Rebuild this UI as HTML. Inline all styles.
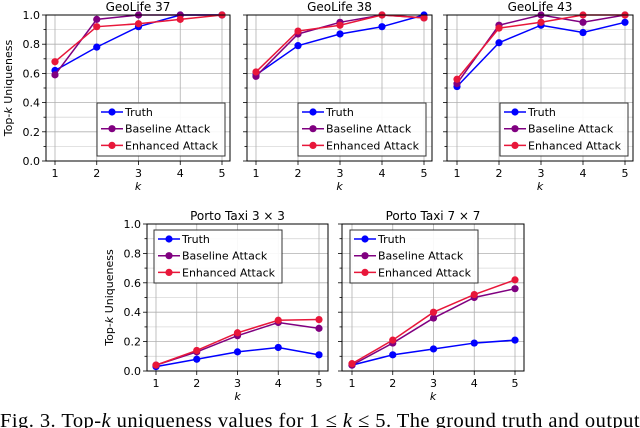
<!DOCTYPE html>
<html><head><meta charset="utf-8"><style>
html,body{margin:0;padding:0;background:#fff;width:640px;height:428px;overflow:hidden}
svg{display:block}
text{font-family:"DejaVu Sans","Liberation Sans",sans-serif}
</style></head><body>
<svg id="fig" width="640" height="428" viewBox="0 0 640 428" xmlns="http://www.w3.org/2000/svg">
<text x="0" y="427" font-size="20.5" fill="#000" textLength="648" lengthAdjust="spacing" style="font-family:'Liberation Serif',serif">Fig. 3.  Top-<tspan font-style="italic">k</tspan> uniqueness values for 1 ≤ <tspan font-style="italic">k</tspan> ≤ 5. The ground truth and outputs</text>
</svg>
<script>
const kValues = [1,2,3,4,5];
const yTicks = [0,0.2,0.4,0.6,0.8,1.0];
const yTickLabels = ["0.0","0.2","0.4","0.6","0.8","1.0"];
const seriesNames = ["Truth","Baseline Attack","Enhanced Attack"];
const g37Truth = [0.62,0.78,0.92,1.0,1.0];
const g37Base = [0.59,0.97,1.0,1.0,1.0];
const g37Enh = [0.68,0.92,0.94,0.97,1.0];
const g38Truth = [0.59,0.79,0.87,0.92,1.0];
const g38Base = [0.58,0.87,0.95,1.0,0.98];
const g38Enh = [0.61,0.89,0.93,1.0,0.98];
const g43Truth = [0.51,0.81,0.93,0.88,0.95];
const g43Base = [0.53,0.93,1.0,0.95,1.0];
const g43Enh = [0.56,0.91,0.95,1.0,1.0];
const p3Truth = [0.03,0.08,0.13,0.16,0.11];
const p3Base = [0.04,0.13,0.24,0.33,0.29];
const p3Enh = [0.04,0.14,0.26,0.345,0.35];
const p7Truth = [0.04,0.11,0.15,0.19,0.21];
const p7Base = [0.04,0.19,0.36,0.50,0.56];
const p7Enh = [0.05,0.21,0.40,0.52,0.62];

const NS="http://www.w3.org/2000/svg";
const svg=document.getElementById('fig');
const colors=["#0000ff","#800080","#e8173a"];
function mk(tag,attrs,parent){const e=document.createElementNS(NS,tag);for(const k in attrs)e.setAttribute(k,attrs[k]);(parent||svg).appendChild(e);return e;}

const panels=[
 {id:"geolife-37",title:"GeoLife 37",fx0:46,fx1:230,fy0:15,fy1:161,x1:55,x5:222,yl:true,series:[g37Truth,g37Base,g37Enh],leg:[97,103]},
 {id:"geolife-38",title:"GeoLife 38",fx0:247,fx1:432,fy0:15,fy1:161,x1:256,x5:424,yl:false,series:[g38Truth,g38Base,g38Enh],leg:[298,103]},
 {id:"geolife-43",title:"GeoLife 43",fx0:447,fx1:633,fy0:15,fy1:161,x1:457,x5:625,yl:false,series:[g43Truth,g43Base,g43Enh],leg:[500,103]},
 {id:"porto-3x3",title:"Porto Taxi 3 × 3",fx0:147,fx1:328,fy0:224,fy1:371,x1:156,x5:319,yl:true,series:[p3Truth,p3Base,p3Enh],leg:[154,230]},
 {id:"porto-7x7",title:"Porto Taxi 7 × 7",fx0:342,fx1:524,fy0:224,fy1:371,x1:352,x5:515,yl:false,series:[p7Truth,p7Base,p7Enh],leg:[350,230]}
];

panels.forEach(p=>{
 const g=mk('g',{});
 
 
 const xs=v=>p.x1+(v-1)*(p.x5-p.x1)/4;
 const ys=v=>p.fy1-v*(p.fy1-p.fy0);
 for(let i=1;i<10;i+=2){const y=ys(i/10);mk('line',{x1:p.fx0,x2:p.fx1,y1:y,y2:y,stroke:'#d8d8d8','stroke-width':0.8},g);
  mk('line',{x1:p.fx0-2.5,x2:p.fx0,y1:y,y2:y,stroke:'#000','stroke-width':0.8},g);}
 yTicks.forEach((t,i)=>{const y=ys(t);
  mk('line',{x1:p.fx0,x2:p.fx1,y1:y,y2:y,stroke:'#b0b0b0','stroke-width':0.8},g);
  mk('line',{x1:p.fx0-4,x2:p.fx0,y1:y,y2:y,stroke:'#000','stroke-width':0.8},g);
  if(p.yl){const t2=mk('text',{x:p.fx0-6,y:y+4,'font-size':11,'text-anchor':'end',fill:'#000'},g);t2.textContent=yTickLabels[i];
   }
 });
 kValues.forEach(k=>{const x=xs(k);
  mk('line',{x1:x,x2:x,y1:p.fy0,y2:p.fy1,stroke:'#b0b0b0','stroke-width':0.8},g);
  mk('line',{x1:x,x2:x,y1:p.fy1,y2:p.fy1+4,stroke:'#000','stroke-width':0.8},g);
  const t=mk('text',{x:x,y:p.fy1+16,'font-size':11,'text-anchor':'middle',fill:'#000'},g);t.textContent=k;
  
 });
 p.series.forEach((s,si)=>{
  const pts=s.map((v,i)=>xs(kValues[i])+','+ys(v)).join(' ');
  const pl=mk('polyline',{points:pts,fill:'none',stroke:colors[si],'stroke-width':1.5},g);
  
  
  s.forEach((v,i)=>{const c=mk('circle',{cx:xs(kValues[i]),cy:ys(v),r:3.6,fill:colors[si]},g);
   });
 });
 const fr=mk('rect',{x:p.fx0,y:p.fy0,width:p.fx1-p.fx0,height:p.fy1-p.fy0,fill:'none',stroke:'#000','stroke-width':1},g);
 
 const tt=mk('text',{x:(p.fx0+p.fx1)/2,y:p.fy0-4,'font-size':12,'text-anchor':'middle',fill:'#000'},g);tt.textContent=p.title;
 
 const xl=mk('text',{x:(p.fx0+p.fx1)/2,y:p.fy1+29,'font-size':11,'font-style':'italic','text-anchor':'middle',fill:'#000'},g);xl.textContent='k';
 
 if(p.yl){const yc=(p.fy0+p.fy1)/2;const yt=mk('text',{x:p.fx0-34,y:yc,'font-size':11,'text-anchor':'middle',fill:'#000',transform:`rotate(-90 ${p.fx0-34} ${yc})`},g);
  yt.innerHTML='Top-<tspan font-style="italic">k</tspan> Uniqueness';
  }
 const lg=mk('g',{},g);
 
 const [lx,ly]=p.leg;
 mk('rect',{x:lx,y:ly,width:128,height:53,fill:'#fff','fill-opacity':0.9,stroke:'#333','stroke-width':1},lg);
 seriesNames.forEach((n,i)=>{const y=ly+9+i*16.7;
  mk('line',{x1:lx+4,x2:lx+26,y1:y,y2:y,stroke:colors[i],'stroke-width':1.5},lg);
  mk('circle',{cx:lx+15,cy:y,r:3.6,fill:colors[i]},lg);
  const t=mk('text',{x:lx+28,y:y+4,'font-size':11,fill:'#000'},lg);t.textContent=n;
  });
});
</script>
</body></html>
